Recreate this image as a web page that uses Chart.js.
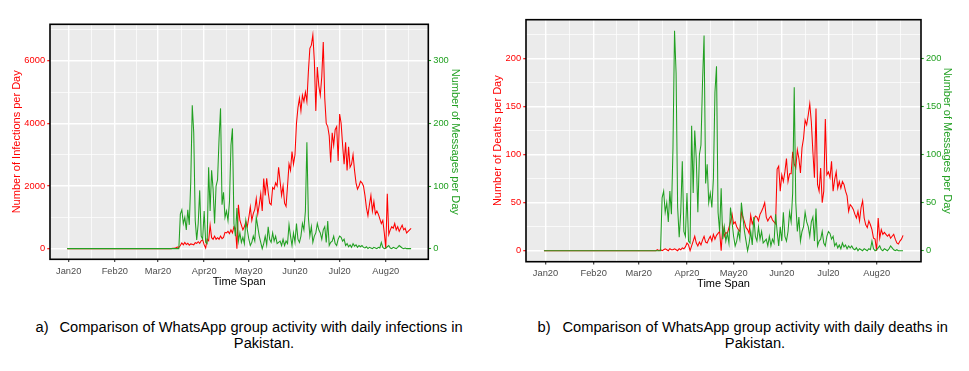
<!DOCTYPE html>
<html><head><meta charset="utf-8">
<script src="https://cdn.jsdelivr.net/npm/chart.js@4.4.1/dist/chart.umd.min.js"></script>
<style>
html,body{margin:0;padding:0;background:#fff;width:969px;height:371px;overflow:hidden;font-family:"Liberation Sans",Arial,sans-serif;}
.panel{position:absolute;top:0;}
.cap{position:absolute;font-size:14.67px;line-height:16px;color:#000;white-space:nowrap;}
</style></head><body>
<div class="panel" style="left:0;width:480px;height:300px"><canvas id="ca" width="480" height="300"></canvas></div>
<div class="panel" style="left:485px;width:484px;height:300px"><canvas id="cb" width="484" height="300"></canvas></div>
<div class="cap" style="left:35.6px;top:318.7px">a)</div>
<div class="cap" style="left:59.4px;top:318.7px">Comparison of WhatsApp group activity with daily infections in</div>
<div class="cap" style="left:264px;top:334.7px;transform:translateX(-50%)">Pakistan.</div>
<div class="cap" style="left:537.5px;top:318.7px">b)</div>
<div class="cap" style="left:562.5px;top:318.7px">Comparison of WhatsApp group activity with daily deaths in</div>
<div class="cap" style="left:755px;top:334.7px;transform:translateX(-50%)">Pakistan.</div>
<script>
// ---- data: one value per day, first day = 31 Dec 2019 (day -1 relative to 1 Jan 2020) ----
const startDay = -1;
const monthTickDays = [0, 31, 60, 91, 121, 152, 182, 213];
const monthTickLabels = ['Jan20', 'Feb20', 'Mar20', 'Apr20', 'May20', 'Jun20', 'Jul20', 'Aug20'];

const infections = [
  0,
  0,0,0,0,0,0,0,0,0,0, 0,0,0,0,0,0,0,0,0,0, 0,0,0,0,0,0,0,0,0,0, 0,
  0,0,0,0,0,0,0,0,0,0, 0,0,0,0,0,0,0,0,0,0, 0,0,0,0,0,0,0,0,0,
  0,0,0,0,0,0,0,0,5,0, 10,15,30,50,40,100,180,120,200,130, 170,110,150,140,120,190,170,220,170,250, 280,
  120,20,300,250,750,350,300,400,300,350, 300,400,320,360,520,500,550,480,600,500, 700,650,0,1400,900,750,600,700,850,700,
  1000,1330,900,1120,1250,1600,1100,1400,1750,1200, 2240,1700,2250,1800,1450,1400,1950,1900,2100,2000, 2600,2150,1700,2000,1450,1350,2000,2700,2500,3100, 2700,
  3000,4000,4500,4800,4400,4900,4700,5000,4700,5650, 6400,6500,6825,6000,4400,5800,5200,4900,5500,6600, 4800,4000,3900,3600,2750,3700,3300,3800,3900,2800,
  4300,4000,3300,2700,3400,2500,3250,2600,2700,3000, 2500,2100,1900,2000,2150,2100,2000,1700,1300,1050, 1400,1700,1200,1500,1100,1200,1100,950,800,900, 500,
  0,1750,450,600,700,650,800,600,700,550, 650,750,600,650,500,550,600,650
];

const deaths = [
  0,
  0,0,0,0,0,0,0,0,0,0, 0,0,0,0,0,0,0,0,0,0, 0,0,0,0,0,0,0,0,0,0, 0,
  0,0,0,0,0,0,0,0,0,0, 0,0,0,0,0,0,0,0,0,0, 0,0,0,0,0,0,0,0,0,
  0,0,0,0,0,0,0,0,0,0, 0,0,1,0,1,0,1,2,1,0, 2,1,1,2,1,0,2,1,3,2, 4,
  8,6,0,5,10,15,8,5,9,6, 11,15,9,8,12,15,10,17,12,16, 18,20,0,25,15,19,18,24,30,38,
  28,30,25,22,20,40,35,30,24,22, 18,37,28,32,36,35,31,38,41,45, 50,35,31,34,36,32,30,28,85,88, 62,
  79,72,82,96,72,80,80,103,90,86, 105,96,81,107,117,136,131,141,153,134, 103,76,148,69,62,86,50,62,137,79,
  82,76,93,62,74,82,65,72,65,72, 69,62,57,41,48,46,43,38,34,41, 31,45,52,34,27,24,31,27,22,13, 12,
  0,34,13,22,17,19,17,15,17,13, 15,17,12,8,7,10,12,16
];

const messages = [
  0,
  0,0,0,0,0,0,0,0,0,0, 0,0,0,0,0,0,0,0,0,0, 0,0,0,0,0,0,0,0,0,0, 0,
  0,0,0,0,0,0,0,0,0,0, 0,0,0,0,0,0,0,0,0,0, 0,0,0,0,0,0,0,0,0,
  0,0,0,0,0,0,0,0,0,0, 0,0,0,0,0,55,62,40,50,30, 62,38,107,229,185,45,14,40,93,20, 15,
  60,10,8,130,60,125,95,40,100,110, 175,224,70,90,50,60,45,75,165,192, 40,20,65,12,25,10,18,8,45,30,
  15,5,10,20,12,50,35,20,10,0, 8,20,6,35,15,10,25,12,20,8, 10,12,5,15,5,12,8,38,20,5, 25,
  10,40,15,10,20,40,30,60,170,50, 20,35,10,20,25,40,30,25,15,30, 35,10,44,5,10,12,20,8,5,15,
  20,18,12,15,5,8,3,6,2,8, 4,6,2,5,3,5,2,1,3,0, 2,1,0,2,1,0,2,1,10,2, 0,
  1,3,5,1,0,2,1,0,2,5, 3,1,0,1,0,0,0,0
];

const infectionTicks = [0, 2000, 4000, 6000];
const messageTicksA = [0, 100, 200, 300];
const deathTicks = [0, 50, 100, 150, 200];
const messageTicksB = [0, 50, 100, 150, 200];
const messageFactorA = 20;   // messages drawn x20 against infections
const messageFactorB = 1;

// ---- styling ----
const RED = '#FF0000';
const GREEN = '#22A022';
const FONT = '"Liberation Sans", Arial, sans-serif';
const TICK_SIZE = 9.3;

function minorsOf(majors, lo, hi) {
  const step = majors[1] - majors[0];
  const ext = [majors[0] - step, ...majors, majors[majors.length - 1] + step];
  const out = [];
  for (let i = 0; i < ext.length - 1; i++) {
    const m = (ext[i] + ext[i + 1]) / 2;
    if (m >= lo && m <= hi) out.push(m);
  }
  return out;
}

const panelPlugin = {
  id: 'panelbg',
  beforeDraw(chart) {
    const { ctx, chartArea: a } = chart;
    ctx.save();
    ctx.fillStyle = '#EBEBEB';
    ctx.fillRect(a.left, a.top, a.right - a.left, a.bottom - a.top);
    ctx.restore();
  },
  afterDraw(chart) {
    const { ctx, chartArea: a } = chart;
    ctx.save();
    ctx.strokeStyle = '#000';
    ctx.lineWidth = 1.6;
    ctx.strokeRect(a.left, a.top, a.right - a.left, a.bottom - a.top);
    ctx.restore();
  }
};

function build(id, o) {
  const days = o.left.map((_, i) => i + startDay);
  const first = days[0], last = days[days.length - 1];
  const xr = last - first;
  const xLo = first - 0.05 * xr, xHi = last + 0.05 * xr;
  const xMinor = minorsOf(monthTickDays, xLo, xHi);
  const xAll = [...monthTickDays, ...xMinor].sort((a, b) => a - b);

  const hiData = Math.max(Math.max(...o.left), Math.max(...messages) * o.factor);
  const loData = Math.min(0, Math.min(...o.left));
  const yr = hiData - loData;
  const yLo = loData - 0.05 * yr, yHi = hiData + 0.05 * yr;
  const yMinor = minorsOf(o.leftTicks, yLo, yHi);
  const yAll = [...o.leftTicks, ...yMinor].sort((a, b) => a - b);

  const isMajorX = v => monthTickDays.includes(v);
  const isMajorY = v => o.leftTicks.includes(v);

  new Chart(document.getElementById(id), {
    type: 'line',
    data: {
      datasets: [
        { label: 'Messages', data: messages.map((v, i) => ({ x: days[i], y: v })), yAxisID: 'y2',
          borderColor: GREEN, borderWidth: 1.05, pointRadius: 0, tension: 0, fill: false },
        { label: o.leftName, data: o.left.map((v, i) => ({ x: days[i], y: v })), yAxisID: 'y',
          borderColor: RED, borderWidth: 1.05, pointRadius: 0, tension: 0, fill: false }
      ]
    },
    options: {
      responsive: false, animation: false, devicePixelRatio: 1,
      plugins: { legend: { display: false }, tooltip: { enabled: false } },
      layout: { padding: { top: o.padTop, left: 0, right: 0, bottom: 0 } },
      scales: {
        x: {
          type: 'linear', position: 'bottom', min: xLo, max: xHi,
          afterBuildTicks: s => { s.ticks = xAll.map(v => ({ value: v })); },
          afterFit: s => { s.height = o.xH; },
          ticks: { autoSkip: false, maxRotation: 0, padding: 3.6, color: '#4D4D4D',
            font: { family: FONT, size: TICK_SIZE },
            callback: v => { const k = monthTickDays.indexOf(v); return k >= 0 ? monthTickLabels[k] : ''; } },
          grid: { color: '#FFFFFF', lineWidth: c => isMajorX(c.tick.value) ? 1.4 : 0.7,
            tickColor: c => isMajorX(c.tick.value) ? '#333333' : 'rgba(0,0,0,0)', tickLength: 2.75, tickWidth: 1.1 },
          border: { display: false },
          title: { display: true, text: 'Time Span', color: '#000', font: { family: FONT, size: 11 },
            padding: { top: 0, bottom: o.xTitlePad } }
        },
        y: {
          type: 'linear', position: 'left', min: yLo, max: yHi,
          afterBuildTicks: s => { s.ticks = yAll.map(v => ({ value: v })); },
          afterFit: s => { s.width = o.leftW; },
          ticks: { autoSkip: false, padding: 2.2, color: RED, font: { family: FONT, size: TICK_SIZE },
            callback: v => isMajorY(v) ? String(v) : '' },
          grid: { color: '#FFFFFF', lineWidth: c => isMajorY(c.tick.value) ? 1.4 : 0.7,
            tickColor: c => isMajorY(c.tick.value) ? RED : 'rgba(0,0,0,0)', tickLength: 2.75, tickWidth: 1.1 },
          border: { display: false },
          title: { display: true, text: o.leftTitle, color: RED, font: { family: FONT, size: 11 },
            padding: { top: o.leftTitlePad, bottom: 0 } }
        },
        y2: {
          type: 'linear', position: 'right', min: yLo / o.factor, max: yHi / o.factor,
          afterBuildTicks: s => { s.ticks = o.rightTicks.map(v => ({ value: v })); },
          afterFit: s => { s.width = o.rightW; },
          ticks: { autoSkip: false, padding: 2.2, color: GREEN, font: { family: FONT, size: TICK_SIZE },
            callback: v => String(v) },
          grid: { drawOnChartArea: false, tickColor: GREEN, tickLength: 2.75, tickWidth: 1.1 },
          border: { display: false },
          title: { display: true, text: 'Number of Messages per Day', color: GREEN,
            font: { family: FONT, size: 11 }, padding: { top: o.rightTitlePad, bottom: 0 } }
        }
      }
    },
    plugins: [panelPlugin]
  });
}

build('ca', {
  left: infections, leftName: 'Infections', leftTicks: infectionTicks, rightTicks: messageTicksA,
  factor: messageFactorA, leftTitle: 'Number of Infections per Day',
  padTop: 24.3, xH: 40.7, leftW: 50, rightW: 51.7,
  leftTitlePad: 9.9, rightTitlePad: 18.5, xTitlePad: 11.7
});
build('cb', {
  left: deaths, leftName: 'Deaths', leftTicks: deathTicks, rightTicks: messageTicksB,
  factor: messageFactorB, leftTitle: 'Number of Deaths per Day',
  padTop: 19.7, xH: 38.3, leftW: 41, rightW: 48,
  leftTitlePad: 5.9, rightTitlePad: 15.4, xTitlePad: 9.1
});
</script>
</body></html>
